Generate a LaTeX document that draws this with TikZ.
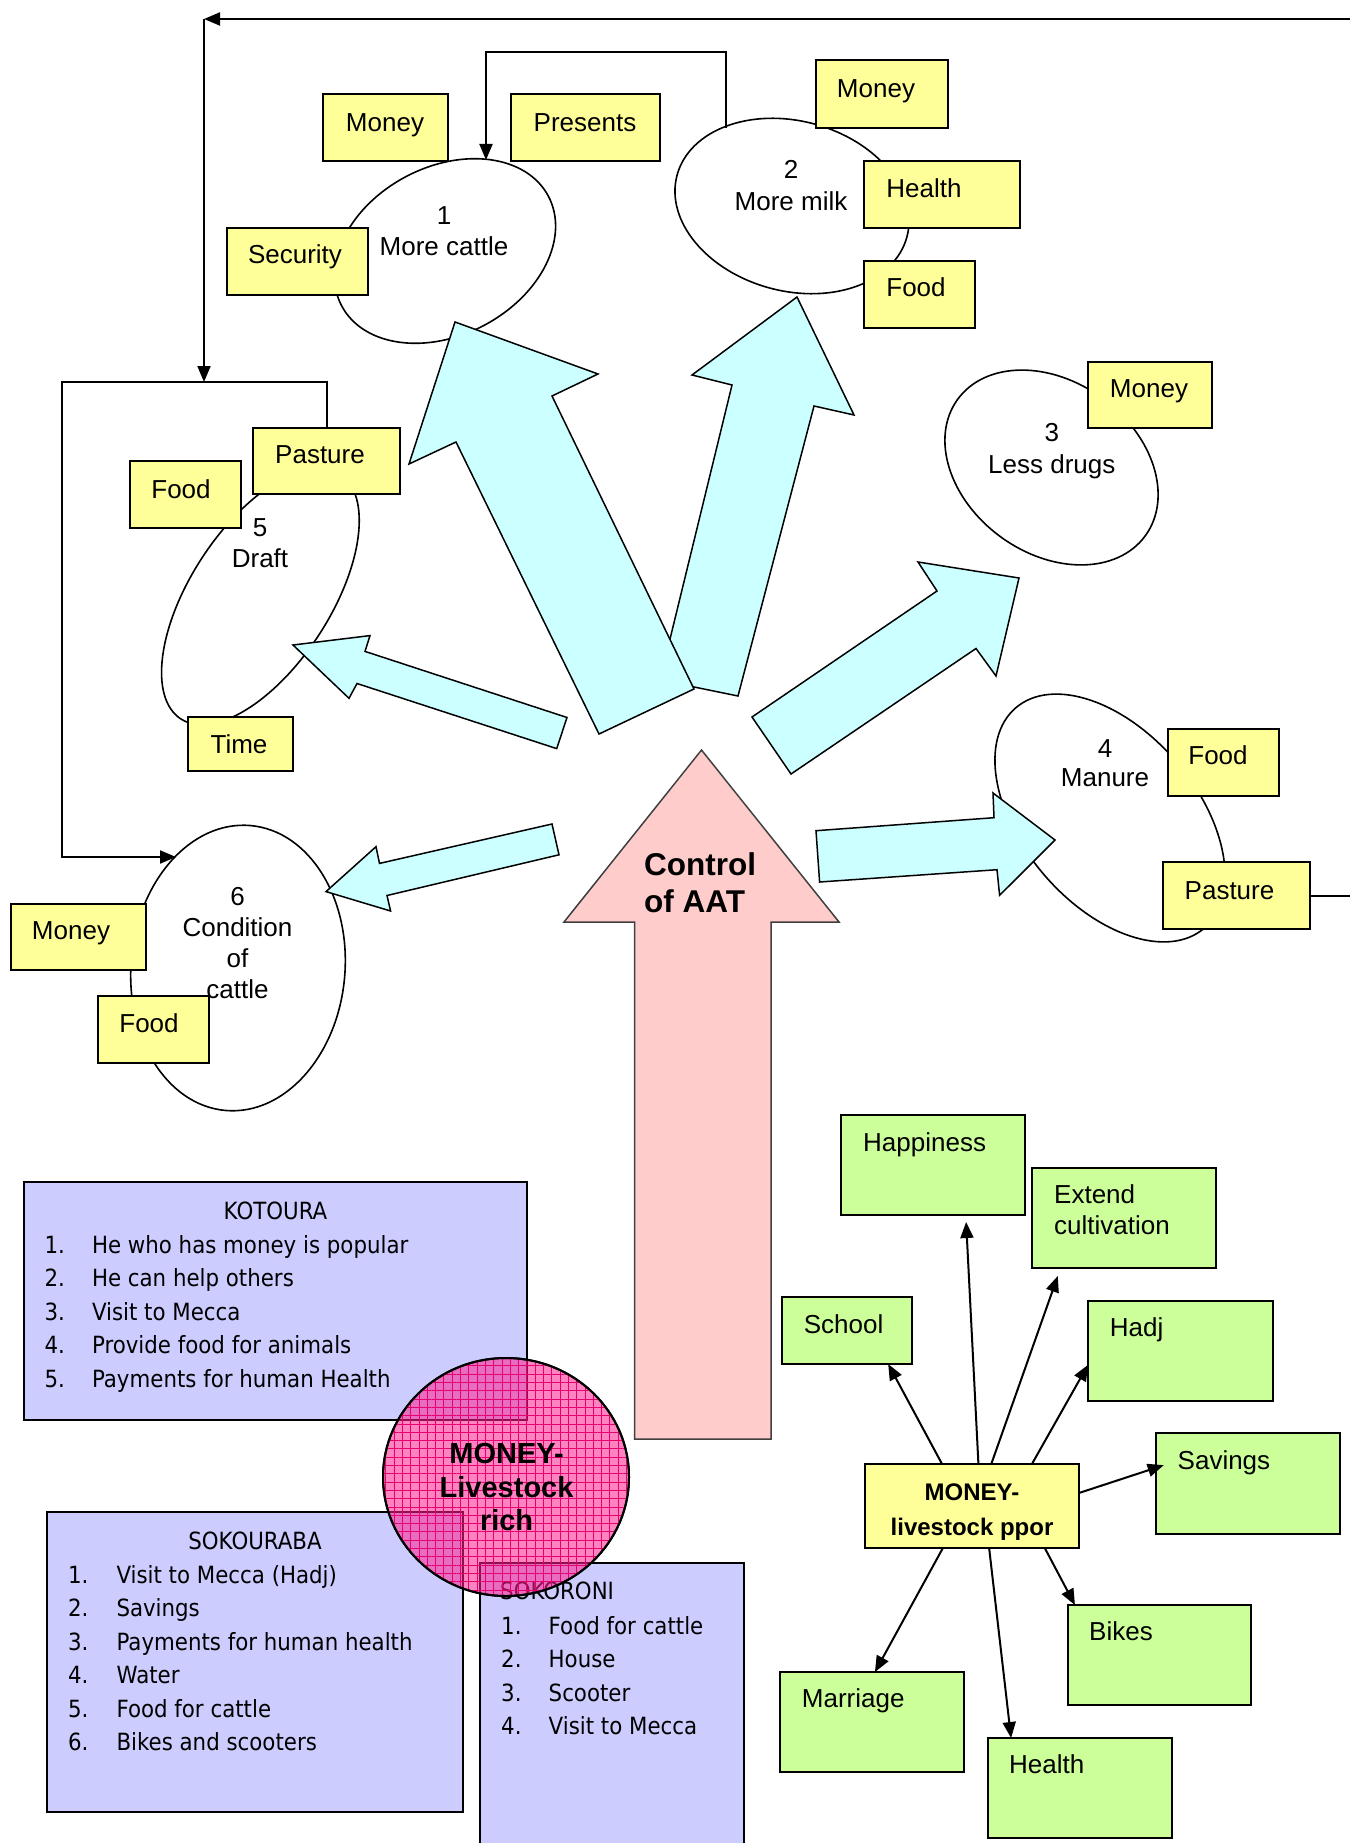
\documentclass[tikz,border=0pt]{standalone}
\usepackage{fontspec}
\setmainfont{Liberation Sans}
\newfontfamily\lstfont[FakeStretch=0.9]{DejaVu Sans}
\usetikzlibrary{shapes.geometric,arrows.meta,calc,patterns.meta}
\definecolor{yfill}{RGB}{255,255,153}
\definecolor{gfill}{RGB}{204,255,153}
\definecolor{lfill}{RGB}{204,204,255}
\definecolor{cfill}{RGB}{204,255,255}
\definecolor{pfill}{RGB}{255,204,204}
\definecolor{mfill}{RGB}{255,30,140}
\definecolor{mgrid}{RGB}{230,0,110}
\tikzdeclarepattern{name=pgrid, type=uncolored,
  bottom left={(-.1pt,-.1pt)}, top right={(8.4pt,8.4pt)}, tile size={(8.3pt,8.3pt)},
  code={\draw[line width=0.9pt] (0pt,4pt) -- (8.3pt,4pt) (4pt,0pt) -- (4pt,8.3pt);}}
\newcommand\mkbox[6]{\node[#1, minimum width={#4-#2}, minimum height={#5-#3}] (#6) at ({(#2+#4)/2},{(#3+#5)/2}) {};}
\begin{document}
\begin{tikzpicture}[x=1pt,y=-1pt,
  ybox/.style={draw=black,line width=2pt,fill=yfill,inner sep=0pt,outer sep=0pt},
  gbox/.style={draw=black,line width=2pt,fill=gfill,inner sep=0pt,outer sep=0pt},
  lbox/.style={draw=black,line width=2pt,fill=lfill,inner sep=0pt,outer sep=0pt},
  ell/.style={draw=black,ellipse,line width=1.6pt,fill=white,inner sep=0pt,outer sep=0pt},
  blk/.style={draw=black,line width=1.5pt,fill=cfill,line join=miter},
  txt/.style={inner sep=0pt,anchor=base,font=\fontsize{26}{31}\selectfont},
  ltxt/.style={inner sep=0pt,anchor=base west,font=\fontsize{26}{31}\selectfont},
  btxt/.style={inner sep=0pt,anchor=base,font=\bfseries\fontsize{29}{34}\selectfont},
  lst/.style={inner sep=0pt,anchor=base west,font=\lstfont\fontsize{23.7}{28}\selectfont},
  conn/.style={line width=2pt},
  arr/.style={conn,-{Triangle[length=16pt,width=13pt]}}
]
\useasboundingbox (0,0) rectangle (1350,1843);

% ---------- ellipses ----------
\node[ell,minimum width=234pt,minimum height=168pt,rotate=28] (e1) at (445,251) {};
\node[ell,minimum width=238pt,minimum height=170pt,rotate=-15] (e2) at (792,206) {};
\node[ell,minimum width=232pt,minimum height=172pt,rotate=-36] (e3) at (1051.5,467.5) {};
\node[ell,minimum width=290pt,minimum height=174pt,rotate=-49.5] (e4) at (1110,818) {};
\node[ell,minimum width=292pt,minimum height=140pt,rotate=57] (e5) at (260.4,596.5) {};
\node[ell,minimum width=214pt,minimum height=286pt,rotate=-5] (e6) at (238,968) {};

\node[txt] (e1a) at (444,224.3) {1};
\node[txt] (e1b) at (444,255.3) {More cattle};
\node[txt] (e2a) at (791,178.3) {2};
\node[txt] (e2b) at (791,210.3) {More milk};
\node[txt] (e3a) at (1051.8,441.3) {3};
\node[txt] (e3b) at (1051.8,473) {Less drugs};
\node[txt] (e4a) at (1105,757.3) {4};
\node[txt] (e4b) at (1105,786) {Manure};
\node[txt] (e5a) at (260,536.3) {5};
\node[txt] (e5b) at (260,567.3) {Draft};
\node[txt] (e6a) at (237.5,905.3) {6};
\node[txt] (e6b) at (237.5,936.8) {Condition};
\node[txt] (e6c) at (237.5,967.3) {of};
\node[txt] (e6d) at (237.5,998.3) {cattle};

% ---------- yellow boxes ----------
\mkbox{ybox}{323}{94}{448}{161}{m1}
\mkbox{ybox}{511}{94}{660}{161}{pres}
\mkbox{ybox}{227}{228}{368}{295}{sec}
\mkbox{ybox}{816}{60}{948}{128}{m2}
\mkbox{ybox}{864}{161}{1020}{228}{h2}
\mkbox{ybox}{864}{261}{975}{328}{f2}
\mkbox{ybox}{1088}{362}{1212}{428}{m3}
\mkbox{ybox}{253}{428}{400}{494}{p5}
\mkbox{ybox}{130}{461}{241}{528}{f5}
\mkbox{ybox}{188}{717}{293}{771}{t5}
\mkbox{ybox}{11}{904}{146}{970}{m6}
\mkbox{ybox}{98}{996}{209}{1063}{f6}
\mkbox{ybox}{1168}{729}{1279}{796}{f4}
\mkbox{ybox}{1163}{862}{1310}{929}{p4}

\node[txt] (m1t) at (385,131.3) {Money};
\node[txt] (prest) at (585,131.3) {Presents};
\node[txt] (sect) at (295,263.3) {Security};
\node[txt] (m2t) at (876,97.3) {Money};
\node[txt] (h2t) at (924,197.3) {Health};
\node[txt] (f2t) at (916,296.3) {Food};
\node[txt] (m3t) at (1149,397.3) {Money};
\node[txt] (p5t) at (320,463.3) {Pasture};
\node[txt] (f5t) at (181,498.3) {Food};
\node[txt] (t5t) at (239,753.3) {Time};
\node[txt] (m6t) at (71,939.3) {Money};
\node[txt] (f6t) at (149,1032.3) {Food};
\node[txt] (f4t) at (1218,764.3) {Food};
\node[txt] (p4t) at (1229.5,899) {Pasture};

% ---------- feedback connectors ----------
\coordinate (tr) at (1350,19);
\coordinate (tl) at (204,19);
\coordinate (fr) at (204,382);
\draw[conn] (p4.east) -- (1350,895.5);
\draw[arr] (tr) -- (tl);
\draw[arr] (tl) -- (fr);
\draw[arr] (p5.north) -- ++(0,-46) -| (62,857) -- (176,857);
\draw[arr] (726,128) -- (726,52) -- (486,52) -- (486,160);

% ---------- cyan block arrows ----------
\draw[blk] (797,297) -- (854,415) -- (814,406) -- (738,696) -- (660,680) -- (732,385) -- (692,375) -- cycle;
\draw[blk] (455,322) -- (598,374) -- (552,396) -- (694,689) -- (599,734) -- (456,442) -- (409,464) -- cycle;
\draw[blk] (1019,578) -- (996,676) -- (976,648.5) -- (791,774) -- (752,717) -- (937,591) -- (918,562) -- cycle;
\draw[blk] (1055,840) -- (999.6,895.3) -- (997,869.7) -- (819.6,882) -- (816,830.7) -- (994,817.7) -- (993,793) -- cycle;
\draw[blk] (293,645) -- (370,635.6) -- (365,651.4) -- (567,717.5) -- (556.7,748.6) -- (357,683.5) -- (349,698.3) -- cycle;
\draw[blk] (326,891.6) -- (376,846.7) -- (379.5,863.4) -- (552,824) -- (559,854.8) -- (387,895.5) -- (390.6,911) -- cycle;

% ---------- Control of AAT ----------
\draw[draw=black!75,line width=1.5pt,fill=pfill,line join=miter] (701.5,750) -- (839,922) -- (771,922) -- (771,1439) -- (634.5,1439) -- (634.5,922) -- (564,922) -- cycle;
\node[inner sep=0pt,anchor=base west,font=\bfseries\fontsize{31.5}{37}\selectfont] (ctl1) at (644,875) {Control};
\node[inner sep=0pt,anchor=base west,font=\bfseries\fontsize{31.5}{37}\selectfont] (ctl2) at (644,912) {of AAT};

% ---------- lists ----------
\mkbox{lbox}{23.5}{1182}{527}{1419.5}{kot}
\mkbox{lbox}{47.4}{1512}{462.8}{1811.5}{sokb}
\mkbox{lbox}{479.6}{1563}{744}{1850}{sokr}

\node[lst,anchor=base] (kt) at (275.5,1219.6) {KOTOURA};
\node[lst] (k1n) at (44.4,1253.6) {1.}; \node[lst] (k1) at (91.8,1253.6) {He who has money is popular};
\node[lst] (k2n) at (44.4,1286.6) {2.}; \node[lst] (k2) at (91.8,1286.6) {He can help others};
\node[lst] (k3n) at (44.4,1320.3) {3.}; \node[lst] (k3) at (91.8,1320.3) {Visit to Mecca};
\node[lst] (k4n) at (44.4,1353.6) {4.}; \node[lst] (k4) at (91.8,1353.6) {Provide food for animals};
\node[lst] (k5n) at (44.4,1387.6) {5.}; \node[lst] (k5) at (91.8,1387.6) {Payments for human Health};

\node[lst,anchor=base] (sbt) at (255,1549.6) {SOKOURABA};
\node[lst] (s1n) at (67.9,1583.6) {1.}; \node[lst] (s1) at (116.3,1583.6) {Visit to Mecca (Hadj)};
\node[lst] (s2n) at (67.9,1616.6) {2.}; \node[lst] (s2) at (116.3,1616.6) {Savings};
\node[lst] (s3n) at (67.9,1650.6) {3.}; \node[lst] (s3) at (116.3,1650.6) {Payments for human health};
\node[lst] (s4n) at (67.9,1683.6) {4.}; \node[lst] (s4) at (116.3,1683.6) {Water};
\node[lst] (s5n) at (67.9,1717.6) {5.}; \node[lst] (s5) at (116.3,1717.6) {Food for cattle};
\node[lst] (s6n) at (67.9,1750.6) {6.}; \node[lst] (s6) at (116.3,1750.6) {Bikes and scooters};

\node[lst] (srt) at (500,1599.6) {SOKORONI};
\node[lst] (r1n) at (501,1634.6) {1.}; \node[lst] (r1) at (548.5,1634.6) {Food for cattle};
\node[lst] (r2n) at (501,1667.6) {2.}; \node[lst] (r2) at (548.5,1667.6) {House};
\node[lst] (r3n) at (501,1701.2) {3.}; \node[lst] (r3) at (548.5,1701.2) {Scooter};
\node[lst] (r4n) at (501,1734.6) {4.}; \node[lst] (r4) at (548.5,1734.6) {Visit to Mecca};

% ---------- MONEY-Livestock rich ----------
\node[draw=black,line width=2pt,ellipse,minimum width=246pt,minimum height=238pt,inner sep=0pt,fill=mfill,fill opacity=0.55] (mlr) at (506,1477) {};
\fill[pattern=pgrid,pattern color=mgrid,fill opacity=0.3] (mlr.center) ellipse [x radius=122,y radius=118];
\draw[line width=2pt] (mlr.center) ellipse [x radius=123,y radius=119];
\node[btxt] (mlr1) at (506.6,1463.1) {MONEY-};
\node[btxt] (mlr2) at (506.6,1497.1) {Livestock};
\node[btxt] (mlr3) at (506.6,1530.4) {rich};

% ---------- right side: livestock poor ----------
\mkbox{gbox}{841}{1115}{1025}{1215}{hap}
\mkbox{gbox}{1032}{1168}{1216}{1268}{ext}
\mkbox{gbox}{782}{1297}{911.5}{1364}{sch}
\mkbox{gbox}{1088}{1300.5}{1273}{1401}{hadj}
\mkbox{gbox}{1155.7}{1433}{1340}{1533.6}{sav}
\mkbox{gbox}{1067.6}{1605}{1251}{1705}{bik}
\mkbox{gbox}{780}{1672}{964}{1772}{mar}
\mkbox{gbox}{987.7}{1738}{1171.7}{1838}{hea}
\mkbox{ybox}{865}{1464}{1079}{1548}{mp}

\node[ltxt] (hapt) at (863,1151.9) {Happiness};
\node[ltxt] (extt1) at (1054,1203.1) {Extend};
\node[ltxt] (extt2) at (1054,1234.9) {cultivation};
\node[ltxt] (scht) at (803.6,1333) {School};
\node[ltxt] (hadjt) at (1109.7,1336.8) {Hadj};
\node[ltxt] (savt) at (1177.5,1469.3) {Savings};
\node[ltxt] (bikt) at (1089,1640.3) {Bikes};
\node[ltxt] (mart) at (801.7,1707.3) {Marriage};
\node[ltxt] (heat) at (1009,1773.8) {Health};
\node[inner sep=0pt,anchor=base,font=\bfseries\fontsize{24}{28}\selectfont] (mpt1) at (972,1500.9) {MONEY-};
\node[inner sep=0pt,anchor=base,font=\bfseries\fontsize{24}{28}\selectfont] (mpt2) at (972,1535) {livestock ppor};

\draw[arr] ($(mp.north west)!0.36!(mp.north east)$) -- ($(sch.south west)!0.82!(sch.south east)$);
\draw[arr] ($(mp.north west)!0.53!(mp.north east)$) -- ($(hap.south west)!0.68!(hap.south east)+(0,7)$);
\draw[arr] ($(mp.north west)!0.59!(mp.north east)$) -- ($(ext.south west)!0.14!(ext.south east)+(0,8)$);
\draw[arr] ($(mp.north west)!0.78!(mp.north east)$) -- ($(hadj.north west)!0.64!(hadj.south west)$);
\draw[arr] ($(mp.north east)!0.345!(mp.south east)$) -- ($(sav.north west)!0.32!(sav.south west)+(8,0)$);
\draw[arr] ($(mp.south west)!0.84!(mp.south east)$) -- ($(bik.north west)!0.04!(bik.north east)$);
\draw[arr] ($(mp.south west)!0.58!(mp.south east)$) -- ($(hea.north west)!0.127!(hea.north east)$);
\draw[arr] ($(mp.south west)!0.364!(mp.south east)$) -- ($(mar.north west)!0.516!(mar.north east)$);
\end{tikzpicture}
\end{document}
